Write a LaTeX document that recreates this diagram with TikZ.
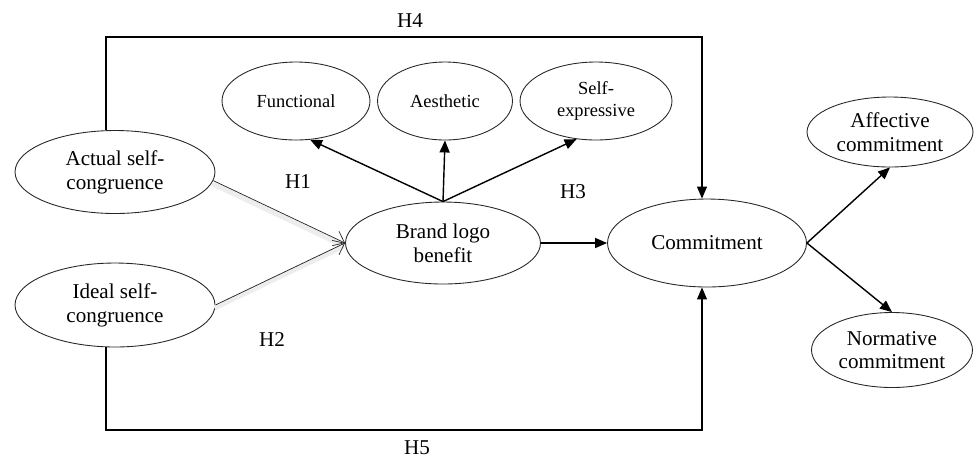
\documentclass[tikz,border=0pt]{standalone}
\usepackage{fontspec}
\setmainfont{Liberation Serif}
\usetikzlibrary{arrows.meta, shapes.geometric}

\begin{document}
\begin{tikzpicture}[
    x=0.02cm, y=-0.02cm,
    font=\fontsize{12}{13.5}\selectfont,
    construct/.style={ellipse, draw=black!85, line width=0.5pt, inner sep=0pt, align=center},
    dimension/.style={construct, font=\fontsize{10.5}{12}\selectfont},
    hyp/.style={inner sep=0pt},
    arrow/.style={-{Triangle[length=2.4mm, width=2mm]}, line width=0.8pt},
    boxarrow/.style={-{Triangle[length=2.4mm, width=2mm]}, line width=0.6pt},
    thinarrow/.style={-{Straight Barb[length=2mm, width=3.2mm]}, line width=0.4pt, draw=black!85,
        preaction={draw=black!7, -, line width=3pt, transform canvas={shift={(-0.6pt,-1.6pt)}}}}
]
\useasboundingbox (0,0) rectangle (974,458);

% --- Constructs ---
\node[construct, minimum width=4cm, minimum height=1.66cm] (actual) at (115,172) {Actual self-\\congruence};
\node[construct, minimum width=4cm, minimum height=1.68cm] (ideal) at (115,305) {Ideal self-\\congruence};

\node[dimension, minimum width=2.96cm, minimum height=1.56cm] (functional) at (296,101) {Functional};
\node[dimension, minimum width=2.7cm, minimum height=1.56cm] (aesthetic) at (445,101) {Aesthetic};
\node[dimension, minimum width=3.04cm, minimum height=1.56cm] (selfexp) at (596,101) {Self-\\expressive};

\node[construct, minimum width=3.9cm, minimum height=1.64cm] (brand) at (443,243) {Brand logo\\benefit};
\node[construct, minimum width=3.98cm, minimum height=1.76cm] (commit) at (707,243) {Commitment};

\node[construct, minimum width=3.32cm, minimum height=1.4cm] (affective) at (890,132) {Affective\\commitment};
\node[construct, minimum width=3.22cm, minimum height=1.5cm] (normative) at (892,350) {Normative\\commitment};

% --- Hypotheses ---
\node[hyp] (h1) at (298,182) {H1};
\node[hyp] (h2) at (272,340) {H2};
\node[hyp] (h3) at (573,192) {H3};
\node[hyp] (h4) at (410,21) {H4};
\node[hyp] (h5) at (417,448) {H5};

% --- Corners of the outer paths ---
\coordinate (h4left) at (106,37);
\coordinate (h4right) at (702,37);
\coordinate (h5left) at (106,430);
\coordinate (h5right) at (702,430);

% --- Arrows ---
\draw[thinarrow] (actual.-5) -- (brand.west);
\draw[thinarrow] (ideal.east) -- (brand.west);

\draw[arrow] (brand.north) -- (functional.290);
\draw[arrow] (brand.north) -- (aesthetic.south);
\draw[arrow] (brand.north) -- (selfexp.243);

\draw[arrow] (brand.east) -- (commit.west);
\draw[arrow] (commit.east) -- (affective.south);
\draw[arrow] (commit.east) -- (normative.north);

\draw[boxarrow] (h4left |- actual.north) -- (h4left) -- (h4right) -- (h4right |- commit.north);
\draw[boxarrow] (h5left |- ideal.south) -- (h5left) -- (h5right) -- (h5right |- commit.south);

\end{tikzpicture}
\end{document}
